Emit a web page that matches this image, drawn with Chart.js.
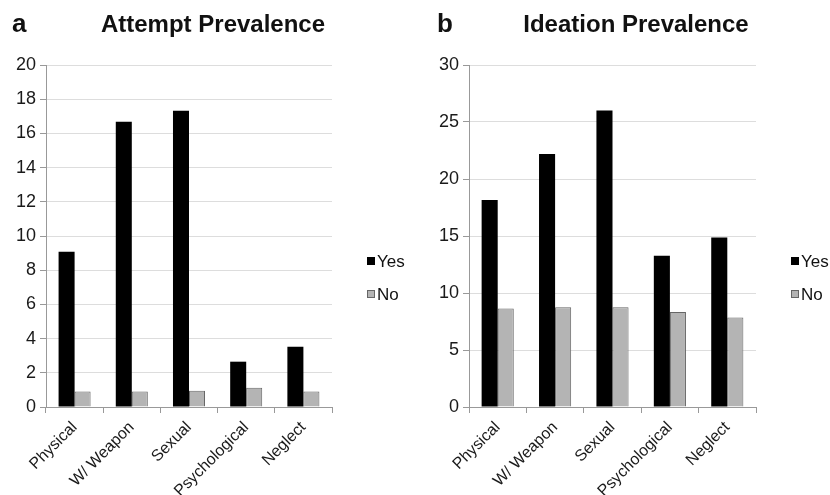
<!DOCTYPE html>
<html>
<head>
<meta charset="utf-8">
<script src="https://cdn.jsdelivr.net/npm/chart.js@4.4.1/dist/chart.umd.min.js"></script>
<style>
  body { margin: 0; background: #fff; font-family: "Liberation Sans", Arial, sans-serif; color: #111; }
  #wrap { position: relative; width: 830px; height: 495px; }
  .panel { position: absolute; top: 0; width: 415px; height: 495px; }
  .letter { position: absolute; top: 8px; font-size: 26px; font-weight: bold; }
  .title { position: absolute; top: 10px; font-size: 24px; font-weight: bold; text-align: center; width: 300px; }
  .leg { position: absolute; font-size: 17px; line-height: 20px; }
  .leg span.box { display: inline-block; width: 8px; height: 8px; margin-right: 2px; vertical-align: 2px; box-sizing: border-box; }
</style>
</head>
<body>
<div id="wrap">
  <div class="panel" style="left:0"><canvas id="chartA" width="415" height="495"></canvas></div>
  <div class="panel" style="left:415px"><canvas id="chartB" width="415" height="495"></canvas></div>

  <div class="letter" style="left:12px">a</div>
  <div class="title" style="left:63px">Attempt Prevalence</div>
  <div class="letter" style="left:437px">b</div>
  <div class="title" style="left:486px">Ideation Prevalence</div>

  <div class="leg" style="left:367px; top:252px"><span class="box" style="background:#000"></span>Yes</div>
  <div class="leg" style="left:367px; top:285px"><span class="box" style="background:#b4b4b4;border:1px solid #666"></span>No</div>
  <div class="leg" style="left:791px; top:252px"><span class="box" style="background:#000"></span>Yes</div>
  <div class="leg" style="left:791px; top:285px"><span class="box" style="background:#b4b4b4;border:1px solid #666"></span>No</div>
</div>

<script>
const categorias = ['Physical', 'W/ Weapon', 'Sexual', 'Psychological', 'Neglect'];

// a: intento
const intentoSi = [9.08, 16.68, 17.33, 2.65, 3.53];
const intentoNo = [0.9, 0.9, 0.95, 1.13, 0.9];

// b: ideación
const ideacionSi = [18.15, 22.2, 26.0, 13.26, 14.87];
const ideacionNo = [8.64, 8.75, 8.75, 8.34, 7.85];

const fuenteY = { family: '"Liberation Sans", Arial, sans-serif', size: 18 };
const fuenteX = { family: '"Liberation Sans", Arial, sans-serif', size: 16 };

function crearGrafico(id, si, no, maxY, paso, anchoEje, padDer) {
  return new Chart(document.getElementById(id), {
    type: 'bar',
    data: {
      labels: categorias,
      datasets: [
        { label: 'Yes', data: si, backgroundColor: '#000', borderColor: '#333', borderWidth: 0 },
        { label: 'No', data: no, backgroundColor: '#b4b4b4', borderColor: '#666', borderWidth: 1 }
      ]
    },
    options: {
      responsive: false,
      animation: false,
      categoryPercentage: 0.56,
      barPercentage: 1.0,
      layout: { padding: { left: 0, top: 65, right: padDer, bottom: 0 } },
      plugins: { legend: { display: false }, tooltip: { enabled: false } },
      scales: {
        x: {
          afterFit: s => { s.height = 88; },
          grid: { drawOnChartArea: false, drawTicks: true, tickLength: 6, color: '#999' },
          border: { color: '#999' },
          ticks: { color: '#1a1a1a', font: fuenteX, minRotation: 45, maxRotation: 45, padding: 5 }
        },
        y: {
          min: 0, max: maxY,
          afterFit: s => { s.width = anchoEje; },
          grid: { color: '#ddd', tickLength: 6, tickColor: '#999' },
          border: { color: '#999' },
          ticks: { stepSize: paso, color: '#1a1a1a', font: fuenteY, padding: 4 }
        }
      }
    }
  });
}

crearGrafico('chartA', intentoSi, intentoNo, 20, 2, 46, 83);
crearGrafico('chartB', ideacionSi, ideacionNo, 30, 5, 54, 74);
</script>
</body>
</html>
